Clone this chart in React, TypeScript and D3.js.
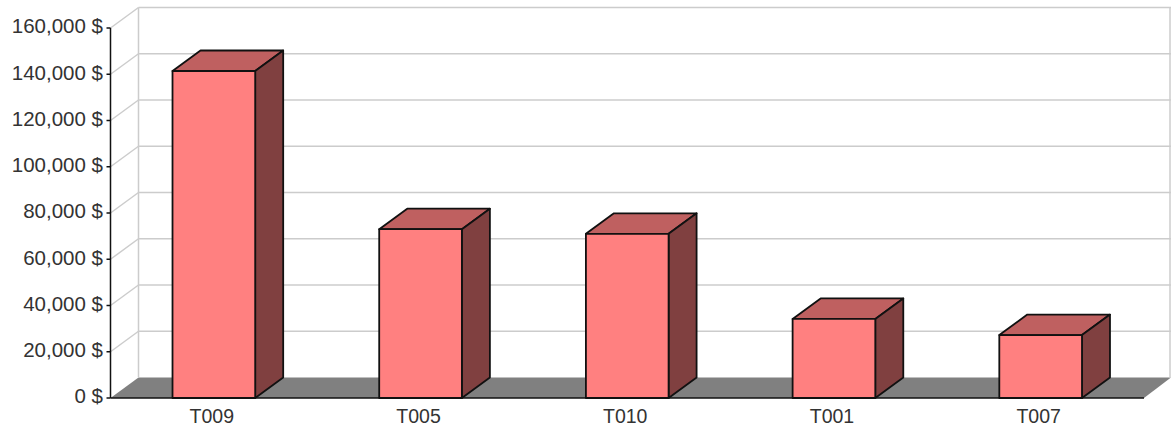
import React from "react";
import * as d3 from "d3";

const categories = ["T009", "T005", "T010", "T001", "T007"];
const amounts = [141400, 73000, 71000, 34200, 27200];
const tickValues = [0, 20000, 40000, 60000, 80000, 100000, 120000, 140000, 160000];

const W = 1171;
const H = 428;
const left = 110.5;
const right = 1144;
const bottom = 398;
const top = 28;
const depthX = 28;
const depthY = -20.5;

const FRONT = "#ff8080";
const TOP = "#bf6060";
const SIDE = "#804040";
const GRID = "#cccccc";
const FLOOR = "#808080";
const INK = "#111111";
const LABEL = "#333333";

export default function App() {
  const x = d3.scaleBand<string>().domain(categories).range([left, right]).paddingInner(0.6).paddingOuter(0.3);
  const y = d3.scaleLinear().domain([0, 160000]).range([bottom, top]);
  const poly = d3.line();

  return (
    <svg
      width={W}
      height={H}
      style={{ position: "absolute", left: 0, top: 0, display: "block" }}
      fontFamily="'Liberation Sans', Arial, sans-serif"
    >
      <rect width={W} height={H} fill="#ffffff" />

      {/* floor of the 3D box */}
      <path
        d={poly([
          [left, bottom],
          [left + depthX, bottom + depthY],
          [W, bottom + depthY],
          [right, bottom],
        ])! + "Z"}
        fill={FLOOR}
      />

      {/* back wall grid and its side-wall returns */}
      <line x1={left + depthX} x2={left + depthX} y1={top + depthY} y2={bottom + depthY} stroke={GRID} strokeWidth={1.5} />
      <line x1={W - 1} x2={W - 1} y1={top + depthY} y2={bottom + depthY} stroke={GRID} strokeWidth={1.5} />
      {tickValues.map((t) => (
        <g key={`grid-${t}`} stroke={GRID} strokeWidth={1.5} fill="none">
          {t > 0 && <line x1={left + depthX} x2={W} y1={y(t) + depthY} y2={y(t) + depthY} />}
          {t > 0 && <line x1={left} x2={left + depthX} y1={y(t)} y2={y(t) + depthY} />}
        </g>
      ))}

      {/* value axis */}
      <line x1={left} x2={left} y1={top} y2={bottom} stroke={INK} strokeWidth={1.5} />
      {tickValues.map((t) => (
        <g key={`tick-${t}`}>
          <line x1={left - 4} x2={left} y1={y(t)} y2={y(t)} stroke={INK} strokeWidth={1.5} />
          <text x={103} y={y(t)} textAnchor="end" dominantBaseline="middle" fontSize={20.5} fill={LABEL}>
            {`${d3.format(",")(t)} $`}
          </text>
        </g>
      ))}

      {/* category axis */}
      <line x1={left} x2={right} y1={bottom} y2={bottom} stroke={INK} strokeWidth={1.5} />

      {/* extruded bars */}
      {categories.map((c, i) => {
        const x0 = x(c)!;
        const x1 = x0 + x.bandwidth();
        const yt = y(amounts[i]);
        return (
          <g key={c} stroke={INK} strokeWidth={1.8} strokeLinejoin="round">
            <path
              d={poly([
                [x0, yt],
                [x0 + depthX, yt + depthY],
                [x1 + depthX, yt + depthY],
                [x1, yt],
              ])! + "Z"}
              fill={TOP}
            />
            <path
              d={poly([
                [x1, yt],
                [x1 + depthX, yt + depthY],
                [x1 + depthX, bottom + depthY],
                [x1, bottom],
              ])! + "Z"}
              fill={SIDE}
            />
            <rect x={x0} y={yt} width={x.bandwidth()} height={bottom - yt} fill={FRONT} />
            <text
              x={(x0 + x1) / 2 - 2}
              y={423}
              textAnchor="middle"
              fontSize={19.5}
              fill={LABEL}
              stroke="none"
            >
              {c}
            </text>
          </g>
        );
      })}
    </svg>
  );
}
